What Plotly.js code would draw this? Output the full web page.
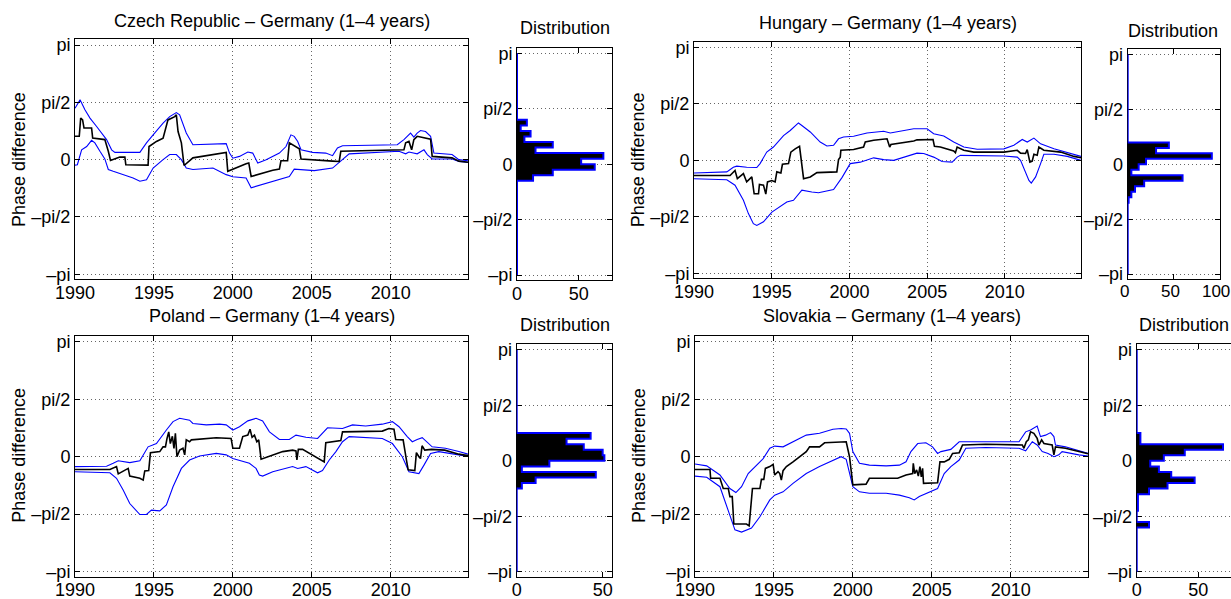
<!DOCTYPE html>
<html>
<head>
<meta charset="utf-8">
<script src="https://cdn.plot.ly/plotly-3.0.1.min.js"></script>
<style>
html,body{margin:0;padding:0;background:#fff;}
#chart{width:1231px;height:599px;}
</style>
</head>
<body>
<div id="chart"></div>
<script>
// ---------------- DATA (year, phase difference in radians) ----------------
const czPhase = [[1990.00,0.64],[1990.27,0.64],[1990.36,1.14],[1990.48,1.09],[1990.57,0.87],[1991.05,0.87],[1991.12,0.59],[1991.89,0.55],[1992.11,0.23],[1992.25,-0.02],[1992.84,0.07],[1993.16,0.07],[1993.22,-0.14],[1994.63,-0.15],[1994.69,0.36],[1995.16,0.50],[1995.58,0.59],[1995.68,0.77],[1995.89,1.09],[1996.32,1.18],[1996.42,1.23],[1996.53,0.77],[1996.74,0.46],[1996.91,-0.16],[1997.47,0.05],[1999.58,0.20],[1999.68,-0.32],[2000.84,-0.11],[2001.01,-0.09],[2001.16,-0.46],[2002.53,-0.29],[2002.95,-0.26],[2003.05,-0.03],[2003.47,-0.03],[2003.58,0.46],[2004.21,0.30],[2004.32,0.02],[2006.32,-0.04],[2006.74,-0.05],[2006.84,0.23],[2010.84,0.27],[2010.95,0.46],[2011.16,0.50],[2011.33,0.27],[2011.47,0.55],[2011.68,0.64],[2012.53,0.56],[2012.63,0.09],[2013.89,0.05],[2014.32,-0.04],[2014.9,-0.07]];
const czUpper = [[1990.00,1.41],[1990.32,1.64],[1990.63,1.37],[1990.95,1.14],[1991.37,0.91],[1991.79,0.68],[1992.00,0.55],[1992.32,0.27],[1992.53,0.20],[1994.11,0.20],[1994.53,0.46],[1994.95,0.68],[1995.58,1.00],[1996.00,1.18],[1996.42,1.29],[1996.63,1.23],[1997.05,0.73],[1997.47,0.41],[1999.58,0.44],[1999.79,0.18],[2000.00,0.04],[2000.42,0.09],[2000.95,0.21],[2001.26,0.18],[2001.58,-0.09],[2002.11,0.00],[2002.95,0.18],[2003.37,0.36],[2003.68,0.68],[2003.89,0.64],[2004.11,0.50],[2004.32,0.27],[2005.05,0.20],[2005.89,0.18],[2006.32,0.11],[2006.63,0.32],[2006.95,0.38],[2010.42,0.41],[2010.84,0.55],[2011.26,0.73],[2011.47,0.62],[2011.68,0.73],[2011.89,0.80],[2012.21,0.77],[2012.53,0.64],[2012.74,0.18],[2013.89,0.14],[2014.32,0.00],[2014.9,-0.03]];
const czLower = [[1990.00,-0.15],[1990.15,-0.14],[1990.42,0.27],[1990.74,0.36],[1991.05,0.53],[1991.26,0.46],[1991.58,0.23],[1991.89,0.02],[1992.11,-0.27],[1992.42,-0.32],[1993.68,-0.50],[1994.11,-0.59],[1994.53,-0.55],[1994.95,-0.23],[1995.58,0.00],[1996.00,0.14],[1996.42,0.14],[1996.74,0.00],[1997.05,-0.23],[1997.47,-0.27],[1998.74,-0.23],[1999.58,-0.41],[2000.00,-0.47],[2000.84,-0.50],[2001.16,-0.77],[2001.47,-0.73],[2002.53,-0.59],[2003.58,-0.46],[2003.89,-0.26],[2005.16,-0.30],[2006.32,-0.23],[2006.95,0.00],[2007.37,0.16],[2010.53,0.23],[2010.95,0.16],[2011.16,0.21],[2011.68,0.16],[2012.11,0.27],[2012.32,0.14],[2012.63,0.02],[2013.89,0.02],[2014.32,-0.05],[2014.9,-0.07]];

const huPhase = [[1990.00,-0.42],[1992.32,-0.42],[1992.64,-0.28],[1992.79,-0.51],[1993.18,-0.37],[1993.39,-0.60],[1993.72,-0.46],[1993.87,-0.93],[1994.15,-0.93],[1994.21,-0.67],[1994.47,-0.69],[1994.62,-0.94],[1994.73,-0.60],[1995.01,-0.56],[1995.22,-0.60],[1995.33,-0.32],[1995.59,-0.35],[1995.69,-0.11],[1996.08,-0.09],[1996.23,0.23],[1996.51,0.32],[1996.79,0.39],[1997.05,-0.51],[1997.48,-0.46],[1997.91,-0.34],[1998.98,-0.32],[1999.19,-0.32],[1999.30,0.02],[1999.41,0.09],[1999.45,0.28],[2000.27,0.30],[2000.91,0.37],[2001.02,0.51],[2001.56,0.56],[2002.42,0.60],[2002.59,0.37],[2002.67,0.44],[2004.14,0.54],[2004.35,0.57],[2005.38,0.58],[2005.47,0.39],[2005.85,0.37],[2006.71,0.26],[2006.82,0.21],[2006.93,0.37],[2007.36,0.28],[2008.00,0.23],[2009.94,0.23],[2010.80,0.28],[2011.01,0.20],[2011.33,0.19],[2011.44,0.30],[2011.61,-0.05],[2011.76,-0.02],[2011.87,0.17],[2012.08,0.14],[2012.19,0.37],[2012.51,0.28],[2013.59,0.23],[2014.45,0.11],[2014.9,0.07]];
const huUpper = [[1990.00,-0.35],[1992.11,-0.32],[1992.53,-0.19],[1992.75,-0.16],[1993.39,-0.19],[1993.82,-0.19],[1994.04,-0.20],[1994.25,-0.09],[1994.68,0.23],[1995.11,0.37],[1995.76,0.69],[1996.19,0.83],[1996.72,1.04],[1996.94,0.97],[1997.48,0.79],[1998.12,0.51],[1998.55,0.40],[1998.98,0.42],[1999.30,0.60],[1999.62,0.65],[2000.27,0.67],[2001.13,0.76],[2002.20,0.81],[2002.63,0.76],[2003.28,0.81],[2004.14,0.88],[2005.00,0.88],[2005.42,0.74],[2006.07,0.68],[2006.71,0.51],[2007.36,0.37],[2008.22,0.31],[2009.94,0.32],[2010.58,0.42],[2011.12,0.58],[2011.44,0.51],[2011.87,0.62],[2012.30,0.46],[2013.16,0.32],[2014.02,0.21],[2014.9,0.11]];
const huLower = [[1990.00,-0.51],[1992.11,-0.54],[1992.64,-0.69],[1993.18,-1.11],[1993.50,-1.48],[1993.82,-1.76],[1994.04,-1.81],[1994.47,-1.71],[1995.01,-1.44],[1995.54,-1.28],[1995.97,-1.16],[1996.40,-1.11],[1996.94,-0.83],[1997.58,-0.88],[1998.01,-0.90],[1998.98,-0.81],[1999.52,-0.48],[2000.05,-0.09],[2000.70,-0.05],[2001.56,0.07],[2002.20,0.02],[2002.85,0.00],[2003.71,0.12],[2004.35,0.20],[2004.78,0.19],[2005.42,0.09],[2005.96,-0.03],[2006.61,-0.05],[2006.93,0.09],[2007.14,0.14],[2009.94,0.12],[2010.80,0.09],[2011.01,0.00],[2011.22,-0.23],[2011.55,-0.56],[2011.70,-0.63],[2011.98,-0.46],[2012.30,-0.09],[2012.51,0.17],[2013.16,0.17],[2014.02,0.11],[2014.9,0.00]];

const plPhase = [[1990.00,-0.35],[1992.21,-0.35],[1992.63,-0.27],[1992.74,-0.47],[1993.37,-0.32],[1993.47,-0.53],[1994.11,-0.59],[1994.32,-0.64],[1994.42,-0.39],[1994.67,-0.38],[1994.78,0.11],[1995.37,0.14],[1995.58,0.27],[1995.73,0.27],[1995.83,0.50],[1995.94,0.68],[1996.04,0.36],[1996.17,0.56],[1996.27,0.23],[1996.36,0.64],[1996.46,0.00],[1996.63,0.18],[1996.84,0.23],[1996.95,0.05],[1997.05,0.46],[1997.26,0.41],[1997.37,0.46],[1998.95,0.52],[1999.89,0.50],[2000.00,0.23],[2000.42,0.23],[2000.63,0.55],[2000.95,0.59],[2001.09,0.75],[2001.22,0.53],[2001.37,0.59],[2001.52,0.41],[2001.64,0.46],[2001.79,-0.07],[2002.11,-0.02],[2003.16,0.14],[2003.79,0.18],[2004.00,0.16],[2004.06,-0.09],[2004.15,0.20],[2004.42,0.20],[2005.05,0.05],[2005.79,-0.14],[2005.89,0.38],[2006.84,0.44],[2006.95,0.68],[2008.42,0.68],[2009.47,0.70],[2009.89,0.77],[2010.21,0.75],[2010.32,0.47],[2010.79,0.46],[2011.00,-0.09],[2011.11,-0.36],[2011.53,-0.38],[2011.63,0.11],[2011.79,0.00],[2011.89,-0.05],[2011.99,0.30],[2012.16,0.18],[2012.58,0.20],[2013.42,0.18],[2014.32,0.07],[2014.9,0.03]];
const plUpper = [[1990.00,-0.27],[1992.00,-0.26],[1992.42,-0.18],[1992.74,-0.11],[1993.47,-0.16],[1994.11,-0.11],[1994.63,0.27],[1995.16,0.36],[1995.79,0.73],[1996.21,0.96],[1996.63,1.05],[1997.26,1.00],[1997.47,0.91],[1998.32,0.87],[1999.16,0.89],[1999.58,0.87],[2000.00,0.73],[2000.42,0.82],[2000.95,0.98],[2001.47,1.05],[2001.89,0.98],[2002.32,0.68],[2002.95,0.47],[2003.58,0.47],[2004.00,0.59],[2004.63,0.53],[2005.37,0.50],[2006.00,0.79],[2006.95,0.77],[2007.58,0.87],[2008.42,0.84],[2009.47,0.89],[2010.11,0.96],[2010.53,0.82],[2011.05,0.55],[2011.37,0.41],[2011.68,0.47],[2012.00,0.52],[2012.63,0.27],[2013.47,0.23],[2014.32,0.14],[2014.9,0.07]];
const plLower = [[1990.00,-0.41],[1992.21,-0.44],[1992.63,-0.59],[1993.05,-0.91],[1993.47,-1.28],[1994.11,-1.58],[1994.53,-1.58],[1994.84,-1.46],[1995.37,-1.48],[1995.79,-1.32],[1996.21,-0.82],[1996.74,-0.32],[1997.26,-0.09],[1997.89,0.02],[1998.95,0.09],[1999.58,0.05],[2000.00,-0.05],[2000.63,-0.14],[2001.05,-0.18],[2001.47,-0.32],[2001.68,-0.50],[2001.89,-0.53],[2002.53,-0.41],[2003.79,-0.27],[2004.11,-0.32],[2004.63,-0.27],[2005.37,-0.44],[2005.68,-0.38],[2006.11,-0.09],[2006.53,0.14],[2006.95,0.41],[2007.37,0.55],[2008.42,0.52],[2009.47,0.50],[2010.11,0.36],[2010.74,0.00],[2011.16,-0.41],[2011.79,-0.46],[2012.11,-0.23],[2012.53,0.09],[2013.05,0.14],[2014.32,0.05],[2014.9,0.01]];

const skPhase = [[1990.00,-0.35],[1990.95,-0.35],[1990.99,-0.59],[1991.58,-0.59],[1991.79,-0.87],[1992.11,-0.87],[1992.21,-1.09],[1992.36,-1.09],[1992.46,-1.84],[1993.26,-1.84],[1993.43,-1.89],[1993.64,-0.87],[1994.11,-0.87],[1994.21,-0.62],[1994.36,-0.62],[1994.46,-0.32],[1994.74,-0.27],[1994.95,-0.21],[1995.05,-0.50],[1995.26,-0.41],[1995.37,-0.46],[1995.47,-0.64],[1995.58,-0.38],[1995.79,-0.27],[1996.21,-0.14],[1996.63,0.00],[1997.05,0.14],[1997.26,0.27],[1997.89,0.27],[1998.21,0.38],[1998.74,0.39],[1999.58,0.41],[1999.79,0.00],[2000.00,-0.77],[2000.84,-0.75],[2001.05,-0.59],[2002.11,-0.59],[2002.84,-0.59],[2003.37,-0.50],[2003.79,-0.46],[2003.83,-0.18],[2003.92,-0.46],[2004.04,-0.36],[2004.15,-0.53],[2004.25,-0.27],[2004.34,-0.55],[2004.42,-0.32],[2004.48,-0.73],[2005.37,-0.71],[2005.52,-0.14],[2005.79,-0.14],[2006.11,-0.07],[2006.32,0.09],[2006.74,0.11],[2006.95,0.32],[2008.42,0.34],[2010.74,0.32],[2010.84,0.23],[2010.99,0.41],[2011.12,0.46],[2011.26,0.68],[2011.47,0.64],[2011.68,0.50],[2011.79,0.32],[2011.96,0.46],[2012.11,0.36],[2012.63,0.32],[2012.74,0.05],[2012.84,0.27],[2013.47,0.23],[2014.32,0.14],[2014.9,0.08]];
const skUpper = [[1990.00,-0.20],[1990.74,-0.25],[1991.58,-0.50],[1992.21,-0.87],[1992.59,-0.98],[1992.95,-0.82],[1993.37,-0.46],[1993.79,-0.27],[1994.32,-0.05],[1994.74,0.23],[1995.05,0.29],[1995.58,0.27],[1996.21,0.41],[1997.05,0.59],[1997.89,0.64],[1998.74,0.75],[1999.26,0.77],[1999.58,0.76],[1999.79,0.64],[2000.00,0.14],[2000.42,-0.18],[2001.05,-0.23],[2002.11,-0.25],[2002.95,-0.23],[2003.37,-0.14],[2003.68,0.14],[2004.11,0.36],[2004.63,0.38],[2005.05,0.27],[2005.37,0.09],[2005.58,0.14],[2006.21,0.20],[2006.74,0.41],[2007.58,0.41],[2010.53,0.41],[2010.95,0.68],[2011.26,0.73],[2011.68,0.84],[2011.89,0.55],[2012.21,0.59],[2012.53,0.66],[2012.74,0.55],[2012.84,0.32],[2013.47,0.27],[2014.32,0.16],[2014.9,0.09]];
const skLower = [[1990.00,-0.53],[1990.74,-0.56],[1991.58,-0.82],[1992.11,-1.46],[1992.53,-2.00],[1992.95,-2.06],[1993.58,-1.95],[1994.11,-1.64],[1994.74,-1.18],[1995.05,-1.05],[1995.58,-0.96],[1996.21,-0.73],[1997.05,-0.46],[1997.89,-0.27],[1998.74,-0.09],[1999.26,0.00],[1999.58,-0.07],[2000.00,-0.82],[2000.42,-0.96],[2001.05,-1.00],[2002.11,-1.00],[2002.95,-1.05],[2003.58,-1.12],[2003.89,-1.18],[2004.21,-1.09],[2004.84,-0.96],[2005.37,-0.87],[2005.79,-0.46],[2006.21,-0.27],[2006.74,-0.09],[2007.16,0.23],[2008.42,0.25],[2010.53,0.23],[2010.95,0.16],[2011.37,0.41],[2011.68,0.32],[2012.00,0.14],[2012.37,0.09],[2012.74,0.00],[2013.05,0.05],[2013.26,0.14],[2014.32,0.05],[2014.9,0.02]];

// Histogram counts: 40 bins of width pi/20 from -pi (first) to pi (last)
const czHist = [0,0,0,0,0,0,0,0,0,0,0,0,0,0,0,0,0,13,29,63,52,70,15,29,6,11,3,8,0,0,0,0,0,0,0,0,0,0,0,0];
const huHist = [0,0,0,0,0,0,0,0,0,0,0,0,0,1,4,8,18,60,4,12,20,92,31,45,0,0,0,0,0,0,0,0,0,0,0,0,0,0,0,0];
const plHist = [0,0,0,0,0,0,0,0,0,0,0,0,0,0,0,3,11,46,3,19,51,50,39,29,43,0,0,0,0,0,0,0,0,0,0,0,0,0,0,0];
const skHist = [0,0,0,0,0,0,0,0,10,0,0,1,1,1,10,25,47,28,18,11,22,39,70,3,3,0,0,0,0,0,0,0,0,0,0,0,0,0,0,0];

const titles = ['Czech Republic – Germany (1–4 years)','Hungary – Germany (1–4 years)','Poland – Germany (1–4 years)','Slovakia – Germany (1–4 years)'];
const yTickText = ['–pi','–pi/2','0','pi/2','pi'];
const yearTicks = [1990,1995,2000,2005,2010];

// ---------------- BUILD ----------------
const PI = Math.PI;
const yTickVals = [-PI,-PI/2,0,PI/2,PI];
const nb = czHist.length, bw = 2*PI/nb;
const centers = czHist.map((_,i)=>-PI+(i+0.5)*bw);
const lowerEdges = czHist.map((_,i)=>-PI+i*bw);

const FONT = 'Liberation Sans, Arial, Helvetica, sans-serif';
const FS = 18;
const W=1231, H=599;
const fx = p=>p/W, fy = p=>1-p/H;

const traces = [];
function lines(series, ax){
  const [up,lo,ph] = series;
  const xa='x'+(ax===1?'':ax), ya='y'+(ax===1?'':ax);
  [[up,'#0000ff',1.1],[lo,'#0000ff',1.1],[ph,'#000000',1.6]].forEach(([d,c,w])=>{
    traces.push({type:'scatter',mode:'lines',x:d.map(p=>p[0]),y:d.map(p=>p[1]),
      line:{color:c,width:w},xaxis:xa,yaxis:ya,hoverinfo:'skip',showlegend:false});
  });
}
function hist(counts, ax){
  const xa='x'+ax, ya='y'+ax;
  traces.push({type:'bar',orientation:'h',x:counts,y:centers,width:bw,
    marker:{color:'#000000',line:{width:0}},xaxis:xa,yaxis:ya,hoverinfo:'skip',showlegend:false});
  traces.push({type:'scatter',mode:'lines',x:counts.concat([0]),y:lowerEdges.concat([PI]),
    line:{color:'#0000ff',width:2,shape:'vh'},xaxis:xa,yaxis:ya,hoverinfo:'skip',showlegend:false});
}
lines([czUpper,czLower,czPhase],1);
hist(czHist,2);
lines([huUpper,huLower,huPhase],3);
hist(huHist,4);
lines([plUpper,plLower,plPhase],5);
hist(plHist,6);
lines([skUpper,skLower,skPhase],7);
hist(skHist,8);

const gridCol='rgba(0,0,0,0.6)';
const GD='1px,3px';
const tickFont={family:FONT,size:FS,color:'#000'};
function mainX(d,anchor){return {domain:d,anchor:anchor,range:[1990,2014.9],tickvals:yearTicks,ticktext:yearTicks.map(String),
  showline:true,linecolor:'#000',linewidth:1,mirror:'ticks',ticks:'inside',ticklen:5,tickcolor:'#000',
  showgrid:true,gridcolor:gridCol,griddash:GD,gridwidth:1,zeroline:false,tickfont:tickFont,ticklabelstandoff:-3};}
function mainY(d,anchor){return {domain:d,anchor:anchor,range:[-3.28,3.30],tickvals:yTickVals,ticktext:yTickText,
  showline:true,linecolor:'#000',linewidth:1,mirror:'ticks',ticks:'inside',ticklen:5,tickcolor:'#000',
  showgrid:true,gridcolor:gridCol,griddash:GD,gridwidth:1,zeroline:false,tickfont:tickFont,ticklabelstandoff:0};}
function histX(d,anchor,r,tv,extra){return Object.assign({domain:d,anchor:anchor,range:r,tickvals:tv,ticktext:tv.map(String),
  showline:true,linecolor:'#000',linewidth:1,mirror:'ticks',ticks:'inside',ticklen:5,tickcolor:'#000',
  showgrid:false,zeroline:false,tickfont:tickFont,ticklabelstandoff:-3,ticklabeloverflow:'allow'},extra||{});}
function histY(d,anchor,mir){return {domain:d,anchor:anchor,range:[-3.28,3.30],tickvals:yTickVals,ticktext:yTickText,
  showline:true,linecolor:'#000',linewidth:1,mirror:mir?'ticks':false,ticks:'inside',ticklen:5,tickcolor:'#000',layer:'below traces',
  showgrid:true,gridcolor:gridCol,griddash:GD,gridwidth:1,zeroline:false,tickfont:tickFont,ticklabelstandoff:0};}

const topRowMain=[fy(279.3),fy(39.3)], botRowMain=[fy(576.7),fy(336)];
const layout = {
  width:W,height:H,margin:{l:0,r:0,t:0,b:0},paper_bgcolor:'#fff',plot_bgcolor:'#fff',
  showlegend:false,bargap:0,font:{family:FONT,size:FS,color:'#000'},
  xaxis: mainX([fx(75),fx(468)],'y'),   yaxis: mainY(topRowMain,'x'),
  xaxis2: histX([fx(517),fx(612)],'y2',[0,77],[0,50]), yaxis2: histY([fy(280),fy(47.7)],'x2',true),
  xaxis3: mainX([fx(694),fx(1081)],'y3'), yaxis3: mainY([fy(278.3),fy(41.7)],'x3'),
  xaxis4: histX([fx(1127.7),fx(1219.5)],'y4',[0,100.4],[0,50,100],{tickfont:{family:FONT,size:17,color:'#000'},ticklabelshift:-3}),
  yaxis4: histY([fy(279),fy(49)],'x4',true),
  xaxis5: mainX([fx(75),fx(468)],'y5'), yaxis5: mainY(botRowMain,'x5'),
  xaxis6: histX([fx(516.7),fx(612.3)],'y6',[0,55.6],[0,50]), yaxis6: histY([fy(576.7),fy(344.3)],'x6',true),
  xaxis7: mainX([fx(695),fx(1088)],'y7'), yaxis7: mainY(botRowMain,'x7'),
  xaxis8: histX([fx(1136.7),1],'y8',[0,76.5],[0,50]), yaxis8: histY([fy(576.7),fy(344.3)],'x8',false),
  annotations:[]
};
function ann(text,x,y,angle){layout.annotations.push({text:text,x:x,y:y,xref:'paper',yref:'paper',showarrow:false,
  xanchor:'center',yanchor:'middle',textangle:angle||0,font:{family:FONT,size:FS,color:'#000'}});}
ann(titles[0],fx(271.5),fy(20.7));
ann(titles[1],fx(887.5),fy(22.7));
ann(titles[2],fx(271.5),fy(316));
ann(titles[3],fx(891.5),fy(316));
ann('Distribution',fx(564.5),fy(28.3));
ann('Distribution',fx(1173.4),fy(30.7));
ann('Distribution',fx(564.5),fy(325));
ann('Distribution',fx(1184),fy(325));
ann('Phase difference',fx(19),fy(160),-90);
ann('Phase difference',fx(638.3),fy(160),-90);
ann('Phase difference',fx(19),fy(455.8),-90);
ann('Phase difference',fx(638.3),fy(455.8),-90);

Plotly.newPlot('chart',traces,layout,{staticPlot:true,displayModeBar:false});
</script>
</body>
</html>
